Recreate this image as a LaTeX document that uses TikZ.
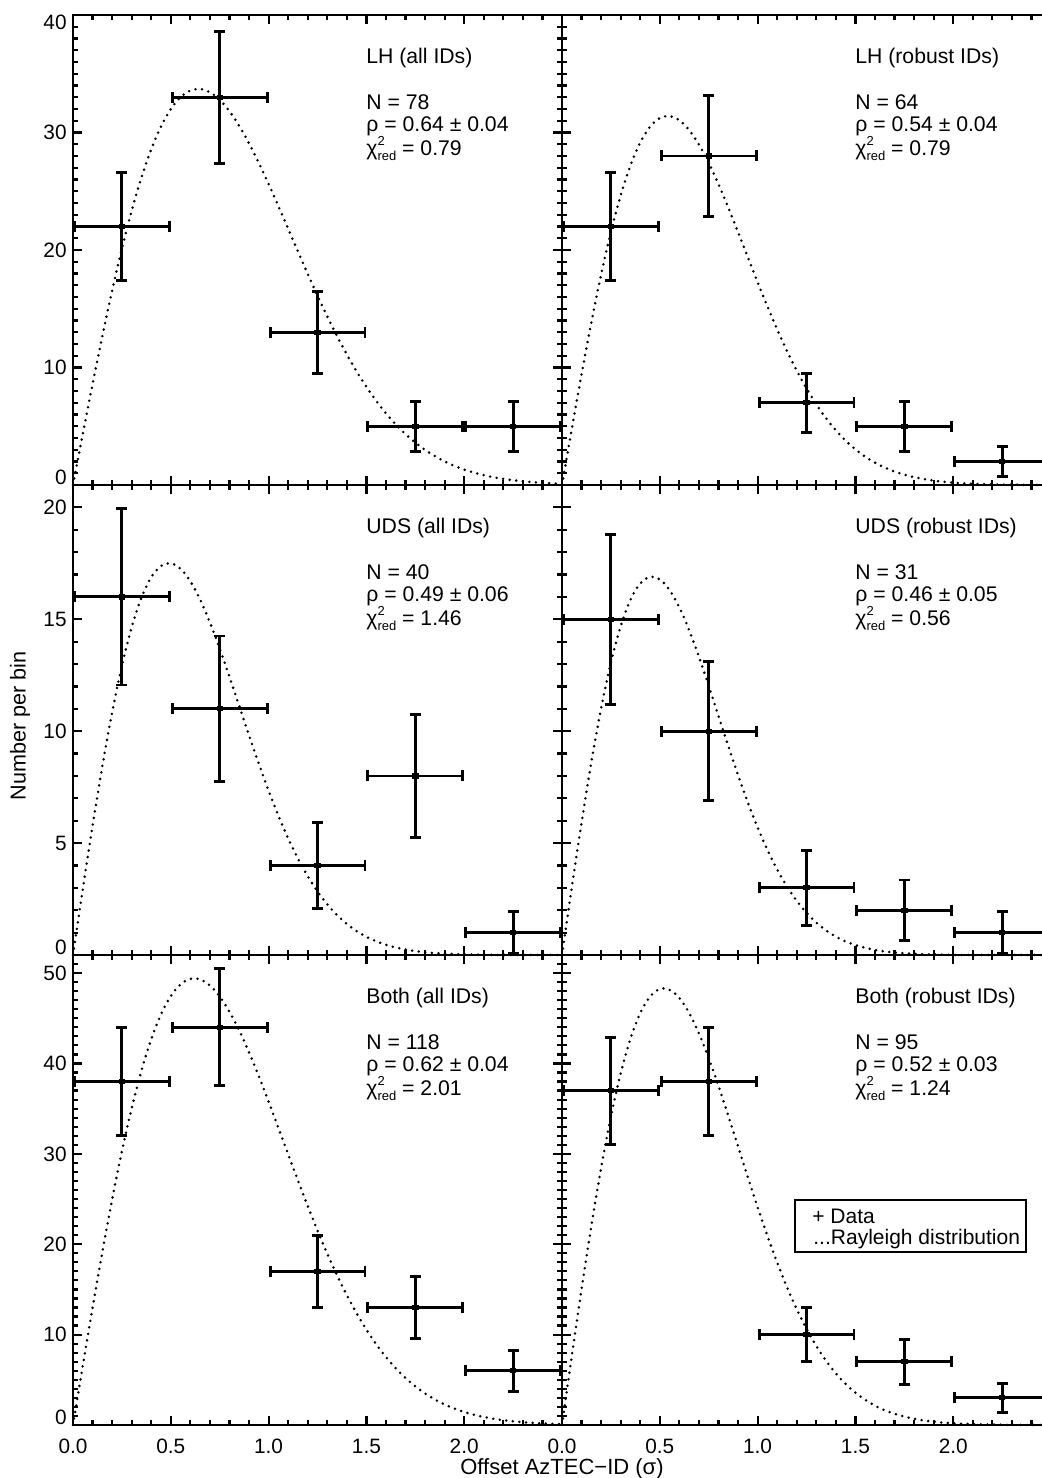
\documentclass[tikz,border=0pt]{standalone}
\usepackage{fontspec}
\setmainfont{Liberation Sans}
\usetikzlibrary{arrows.meta}

% frame of one panel with inward ticks: #1 = y maximum, #2 = major y step
\newcommand{\panelbox}[2]{%
  \draw[frame] (0,0) rectangle (2.5,#1);
  \foreach \i in {0,...,25} {
    \draw[tick] (\i/10,0) -- ++(0,2.5pt);
    \draw[tick] (\i/10,#1) -- ++(0,-2.5pt);
  }
  \foreach \i in {0,...,5} {
    \draw[tick] (\i/2,0) -- ++(0,4.5pt);
    \draw[tick] (\i/2,#1) -- ++(0,-4.5pt);
  }
  \foreach \j in {0,...,#1} {
    \draw[tick] (0,\j) -- ++(2.5pt,0);
    \draw[tick] (2.5,\j) -- ++(-2.5pt,0);
  }
  \foreach \j in {0,#2,...,#1} {
    \draw[tick] (0,\j) -- ++(4.5pt,0);
    \draw[tick] (2.5,\j) -- ++(-4.5pt,0);
  }
}
% one bin: #1 = bin centre, #2 = count (Poisson error)
\newcommand{\datapt}[2]{%
  \draw[errbar] ({#1-0.25},#2) -- ({#1+0.25},#2);
  \draw[errbar] (#1,{#2-sqrt(#2)}) -- (#1,{#2+sqrt(#2)});
  \fill (#1,#2) ++(-1.6pt,-1.3pt) rectangle ++(3.2pt,2.6pt);
}
% Rayleigh curve: #1 = peak height, #2 = rho
\newcommand{\rayleighcurve}[2]{%
  \draw[rayl] plot[domain=0:2.5, samples=150] (\x, {#1*(\x/#2)*exp(0.5-\x*\x/(2*#2*#2))});
}
% text block: #1 name, #2 x, #3 panel top, #4 title, #5 N, #6 rho, #7 chi
\newcommand{\panelnotes}[7]{%
  \node[note] (#1title) at (#2,{#3-49}) {#4};
  \node[note] (#1n) at (#2,{#3-95}) {N = #5};
  \node[note] (#1rho) at (#2,{#3-117}) {ρ = #6};
  \node[note] (#1chi) at (#2,{#3-141}) {χ\makebox[0pt][l]{\smash{\raisebox{5pt}{\fontsize{6.5}{7}\selectfont 2}}}\smash{\raisebox{-2.5pt}{\fontsize{6.5}{7}\selectfont red}} = #7};
}

\begin{document}
\begin{tikzpicture}[x=0.5pt, y=0.5pt,
    frame/.style={line width=1.4pt},
    tick/.style={line width=1.1pt},
    errbar/.style={line width=1.45pt, {Bar[width=5.5pt]}-{Bar[width=5.5pt]}},
    rayl/.style={line width=1.4pt, line cap=round, dash pattern=on 0pt off 3.3pt},
    ticklabel/.style={font=\fontsize{10.4}{12}\selectfont, inner sep=0pt},
    ylab/.style={ticklabel, anchor=east, xshift=-3pt},
    xlab/.style={ticklabel, anchor=north, yshift=-7pt},
    note/.style={font=\fontsize{10.6}{12.5}\selectfont, anchor=base west, inner sep=0pt}
]
\useasboundingbox (0,0) rectangle (1041,1478);

% LH, all IDs
\begin{scope}[shift={(73,993)}, x=97.8pt, y=5.875pt]
  \panelbox{40}{10}
  \rayleighcurve{33.7}{0.64}
  \foreach \c/\n in {0.25/22, 0.75/33, 1.25/13, 1.75/5, 2.25/5} {\datapt{\c}{\n}}
  \node[ylab, anchor=south east] (tl0) at (0,0) {0};
  \foreach \v in {10,20,30} {\node[ylab] (tl\v) at (0,\v) {\v};}
  \node[ylab, anchor=north east] (tl40) at (0,40) {40};
\end{scope}

% LH, robust IDs
\begin{scope}[shift={(562,993)}, x=97.8pt, y=5.875pt]
  \panelbox{40}{10}
  \rayleighcurve{31.4}{0.54}
  \foreach \c/\n in {0.25/22, 0.75/28, 1.25/7, 1.75/5, 2.25/2} {\datapt{\c}{\n}}
\end{scope}

% UDS, all IDs
\begin{scope}[shift={(73,523)}, x=97.8pt, y=11.19pt]
  \panelbox{21}{5}
  \rayleighcurve{17.5}{0.49}
  \foreach \c/\n in {0.25/16, 0.75/11, 1.25/4, 1.75/8, 2.25/1} {\datapt{\c}{\n}}
  \node[ylab, anchor=south east] (ml0) at (0,0) {0};
  \foreach \v in {5,10,15,20} {\node[ylab] (ml\v) at (0,\v) {\v};}
\end{scope}

% UDS, robust IDs
\begin{scope}[shift={(562,523)}, x=97.8pt, y=11.19pt]
  \panelbox{21}{5}
  \rayleighcurve{16.9}{0.46}
  \foreach \c/\n in {0.25/15, 0.75/10, 1.25/3, 1.75/2, 2.25/1} {\datapt{\c}{\n}}
\end{scope}

% Both, all IDs
\begin{scope}[shift={(73,53)}, x=97.8pt, y=4.519pt]
  \panelbox{52}{10}
  \rayleighcurve{49.4}{0.62}
  \foreach \c/\n in {0.25/38, 0.75/44, 1.25/17, 1.75/13, 2.25/6} {\datapt{\c}{\n}}
  \node[ylab, anchor=south east] (bl0) at (0,0) {0};
  \foreach \v in {10,20,30,40,50} {\node[ylab] (bl\v) at (0,\v) {\v};}
  \foreach \t/\s [count=\k] in {0/0.0, 0.5/0.5, 1/1.0, 1.5/1.5, 2/2.0} {\node[xlab] (blx\k) at (\t,0) {\s};}
\end{scope}

% Both, robust IDs
\begin{scope}[shift={(562,53)}, x=97.8pt, y=4.519pt]
  \panelbox{52}{10}
  \rayleighcurve{48.3}{0.52}
  \foreach \c/\n in {0.25/37, 0.75/38, 1.25/10, 1.75/7, 2.25/3} {\datapt{\c}{\n}}
  \foreach \t/\s [count=\k] in {0/0.0, 0.5/0.5, 1/1.0, 1.5/1.5, 2/2.0} {\node[xlab] (brx\k) at (\t,0) {\s};}
\end{scope}

% panel texts
\panelnotes{tl}{366}{1463}{LH (all IDs)}{78}{0.64 ± 0.04}{0.79}
\panelnotes{tr}{855}{1463}{LH (robust IDs)}{64}{0.54 ± 0.04}{0.79}
\panelnotes{ml}{366}{993}{UDS (all IDs)}{40}{0.49 ± 0.06}{1.46}
\panelnotes{mr}{855}{993}{UDS (robust IDs)}{31}{0.46 ± 0.05}{0.56}
\panelnotes{bl}{366}{523}{Both (all IDs)}{118}{0.62 ± 0.04}{2.01}
\panelnotes{br}{855}{523}{Both (robust IDs)}{95}{0.52 ± 0.03}{1.24}

% legend
\draw[line width=1pt] (795,226) rectangle (1026,278);
\node[note, font=\fontsize{10.5}{12}\selectfont] (legdata) at (812,254.5) {+ Data};
\node[note, font=\fontsize{10.5}{12}\selectfont] (legcurve) at (813,233) {...Rayleigh distribution};

% axis titles
\node[font=\fontsize{10.8}{13}\selectfont, rotate=90] (ytitle) at (20,752) {Number per bin};
\node[font=\fontsize{11}{13}\selectfont, anchor=base, inner sep=0pt] (xtitle) at (562,3.5) {Offset AzTEC−ID (σ)};
\end{tikzpicture}
\end{document}
